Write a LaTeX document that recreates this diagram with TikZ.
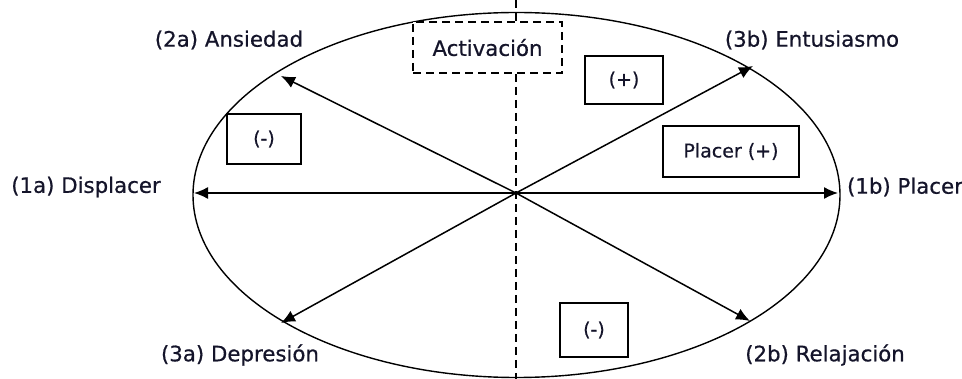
\documentclass[tikz,border=0pt]{standalone}
\usepackage{fontspec}
\setmainfont[FakeBold=0.6]{DejaVu Sans}
\usetikzlibrary{arrows.meta}
\definecolor{ink}{HTML}{14142A}
\tikzset{
  lbl/.style={text=ink, font=\fontsize{21.3}{25}\selectfont, inner sep=0pt},
  tag/.style={draw=black, line width=1.4pt, text=ink, font=\fontsize{19}{22}\selectfont,
              minimum width=#1, inner sep=0pt},
  axis/.style={line width=1.5pt, -{Latex[length=14pt,width=12pt]}},
  guide/.style={line width=1.6pt, dash pattern=on 8pt off 5pt}
}
\begin{document}
\begin{tikzpicture}[x=1pt,y=-1pt]
\useasboundingbox (0,0) rectangle (962,379);

% outer ellipse
\draw[line width=1.4pt] (516.5,195) ellipse [x radius=323.5, y radius=182.5];

% centre and arrow ends
\coordinate (o) at (516,193);
\coordinate (e1a) at (194,193);
\coordinate (e1b) at (838,193);
\coordinate (e2a) at (281,76);
\coordinate (e3b) at (753,66);
\coordinate (e3a) at (281,323);
\coordinate (e2b) at (750,321);

% activation box and vertical dashed axis
\node[draw=black, guide, minimum width=149pt, minimum height=51pt, fill=white,
      text=ink, font=\fontsize{21.3}{25}\selectfont] (act) at (487.5,47.5) {Activación};
\coordinate (top) at (516,0);
\coordinate (bot) at (516,379);
\draw[guide] (top) -- (top |- act.north);
\draw[guide] (bot |- act.south) -- (bot);

% arrows
\draw[axis] (o) -- (e1a);
\draw[axis] (o) -- (e1b);
\draw[axis] (o) -- (e2a);
\draw[axis] (o) -- (e3b);
\draw[axis] (o) -- (e3a);
\draw[axis] (o) -- (e2b);

% labels at the arrow ends
\node[lbl] (l1a) at (86,187) {(1a) Displacer};
\node[lbl] (l1b) at (905,187) {(1b) Placer};
\node[lbl] (l2a) at (229,40) {(2a) Ansiedad};
\node[lbl] (l3b) at (812,40) {(3b) Entusiasmo};
\node[lbl] (l3a) at (240,355) {(3a) Depresión};
\node[lbl] (l2b) at (825,355) {(2b) Relajación};

% sign boxes
\node[tag=78pt, minimum height=48pt] (pos) at (624,80) {(+)};
\node[tag=74pt, minimum height=50pt] (negl) at (264,139) {(-)};
\node[tag=68pt, minimum height=54pt] (negb) at (594,330) {(-)};
\node[tag=136pt, minimum height=51pt] (plc) at (731,151.5) {Placer (+)};
\end{tikzpicture}
\end{document}
